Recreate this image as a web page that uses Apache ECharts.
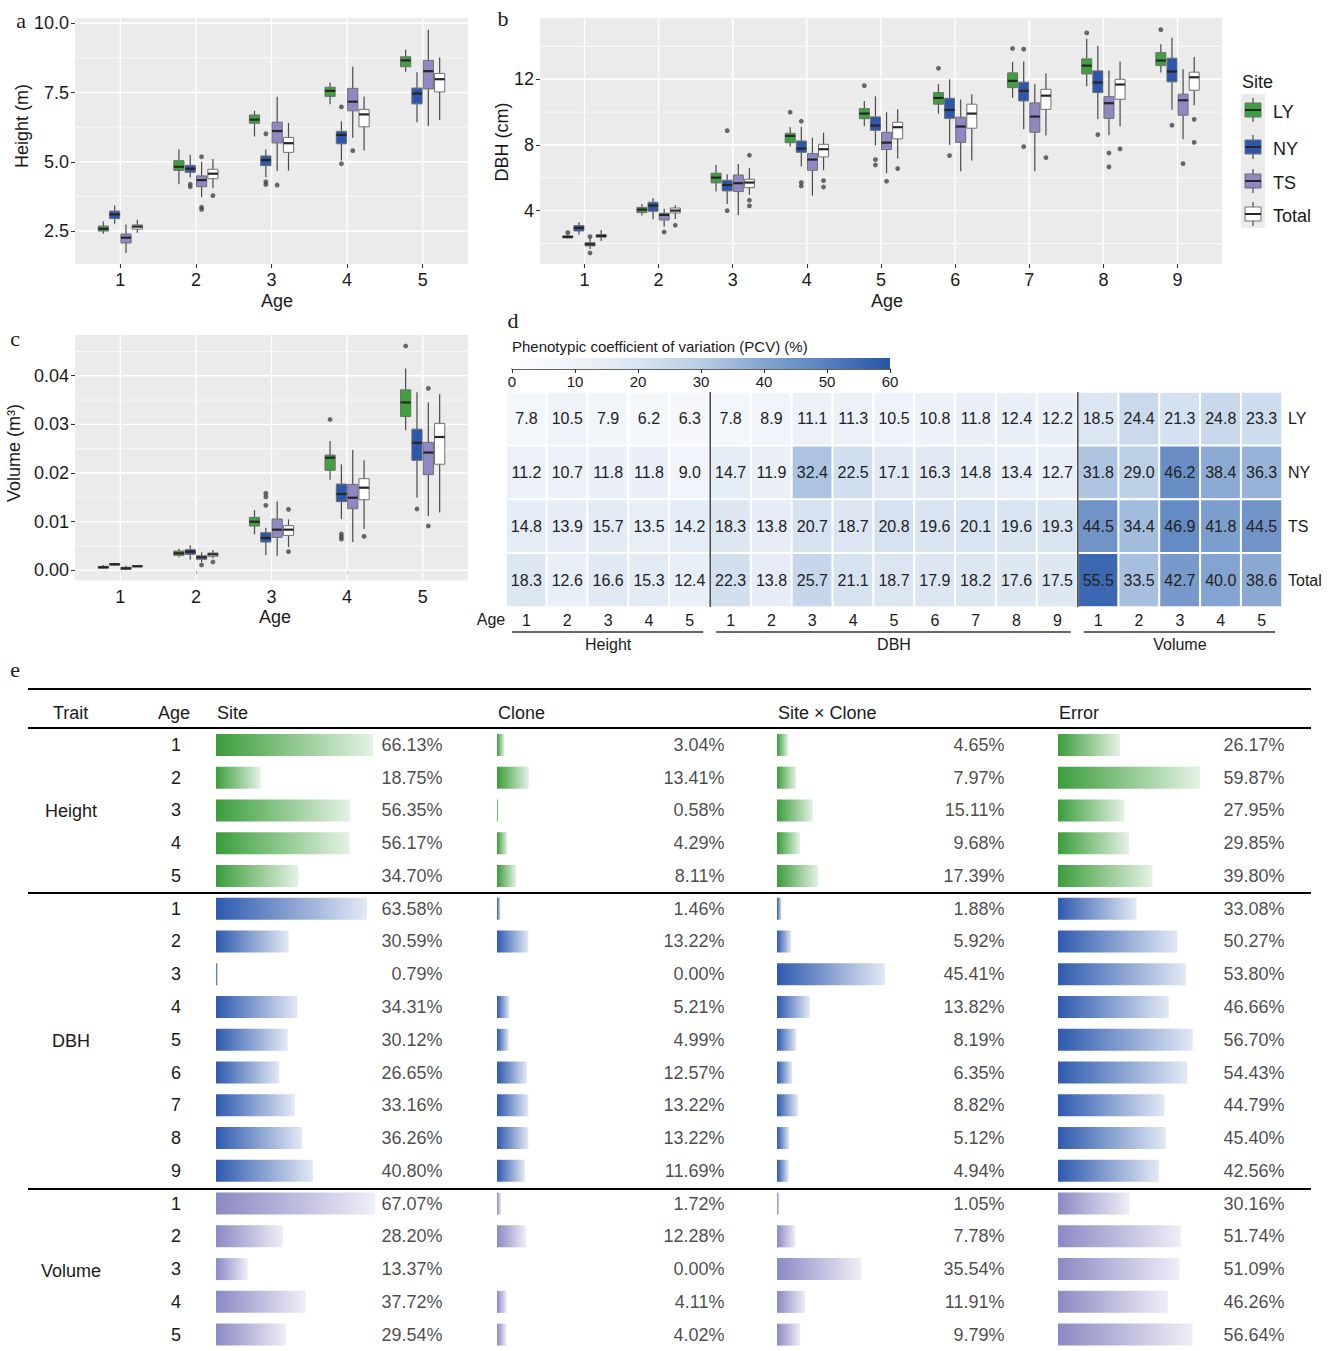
<!DOCTYPE html>
<html><head><meta charset="utf-8">
<script src="https://cdn.jsdelivr.net/npm/echarts@6/dist/echarts.min.js"></script>
<style>html,body{margin:0;padding:0;background:#fff}#c{width:1337px;height:1351px}</style>
</head><body><div id="c"></div>
<script>
// ---------------- DATA ----------------
const sites = ['LY', 'NY', 'TS', 'Total'];
const heightAges = [1, 2, 3, 4, 5];
const dbhAges = [1, 2, 3, 4, 5, 6, 7, 8, 9];
const volumeAges = [1, 2, 3, 4, 5];

// box stats per age: [lower whisker, Q1, median, Q3, upper whisker]
const heightLY = [[2.40,2.50,2.58,2.68,2.84],[4.19,4.69,4.82,5.04,5.45],[5.91,6.39,6.52,6.69,6.84],[7.08,7.36,7.56,7.69,7.86],[8.25,8.43,8.66,8.79,9.04]];
const heightNY = [[2.76,2.95,3.10,3.22,3.42],[4.43,4.62,4.75,4.87,5.25],[4.44,4.86,5.06,5.21,5.44],[5.05,5.65,5.97,6.10,6.46],[6.43,7.09,7.46,7.66,8.23]];
const heightTS = [[1.71,2.07,2.26,2.39,2.74],[3.72,4.10,4.34,4.49,5.00],[4.67,5.68,6.11,6.43,7.35],[5.87,6.84,7.17,7.65,8.43],[6.29,7.63,8.27,8.66,9.77]];
const heightTotal = [[2.44,2.57,2.66,2.72,2.91],[4.04,4.39,4.57,4.73,5.10],[4.68,5.34,5.67,5.88,6.40],[5.41,6.26,6.71,6.89,7.36],[6.51,7.52,7.98,8.19,8.76]];
// outliers: [age, value]
const heightOutLY = [];
const heightOutNY = [[2,4.19],[2,4.10],[3,6.01],[3,4.28],[3,4.18],[4,6.98],[4,4.93]];
const heightOutTS = [[2,5.18],[2,3.36],[2,3.28],[3,4.16],[4,5.40]];
const heightOutTotal = [[2,3.78]];

const dbhLY = [[2.30,2.34,2.40,2.46,2.52],[3.70,3.88,4.06,4.20,4.41],[5.16,5.69,6.01,6.28,6.78],[7.90,8.14,8.55,8.71,9.08],[9.16,9.60,9.91,10.21,10.68],[9.91,10.48,10.86,11.19,11.70],[10.86,11.49,11.90,12.39,13.06],[11.57,12.32,12.83,13.24,14.46],[12.41,12.83,13.14,13.62,14.13]];
const dbhNY = [[2.54,2.76,2.95,3.09,3.29],[3.47,3.96,4.31,4.51,4.77],[4.41,5.20,5.56,5.85,6.21],[6.68,7.55,7.78,8.24,9.10],[7.98,8.89,9.18,9.71,10.96],[8.00,9.62,10.13,10.84,12.00],[8.95,10.68,11.29,11.82,13.08],[9.56,11.19,11.80,12.51,14.03],[10.15,11.84,12.47,13.28,14.52]];
const dbhTS = [[1.67,1.85,1.95,2.05,2.28],[3.03,3.43,3.74,3.84,4.12],[3.74,5.16,5.67,6.17,6.84],[4.91,6.46,7.11,7.47,8.44],[6.28,7.72,8.14,8.77,9.99],[6.40,8.16,9.12,9.69,10.76],[6.40,8.77,9.73,10.56,11.70],[8.59,9.62,10.54,10.94,12.53],[8.35,9.81,10.72,11.09,12.61]];
const dbhTotal = [[2.15,2.38,2.46,2.54,2.82],[3.49,3.86,4.00,4.16,4.33],[4.96,5.40,5.71,5.91,6.58],[6.46,7.27,7.74,8.04,8.75],[7.17,8.37,9.08,9.38,10.17],[7.05,9.02,9.91,10.48,11.09],[8.57,10.17,11.00,11.39,12.37],[9.14,10.78,11.68,12.00,13.08],[10.42,11.33,12.12,12.43,13.36]];
const dbhOutLY = [[1,2.66],[4,9.99],[5,11.61],[6,12.67],[7,13.87],[8,14.82],[9,15.02]];
const dbhOutNY = [[3,8.87],[3,4.00],[4,9.44],[4,5.71],[4,5.50],[5,7.11],[5,6.78],[6,7.35],[7,13.83],[7,7.90],[8,8.63],[9,9.20]];
const dbhOutTS = [[1,2.42],[1,1.42],[2,2.70],[5,5.79],[8,7.51],[8,6.66],[9,6.86]];
const dbhOutTotal = [[2,3.11],[3,7.37],[3,4.63],[3,4.29],[4,5.83],[4,5.44],[5,6.56],[7,7.23],[8,7.76],[9,9.56],[9,8.16]];

const volumeLY = [[0.00040,0.00046,0.00061,0.00081,0.00108],[0.00266,0.00307,0.00349,0.00396,0.00444],[0.00739,0.00910,0.00999,0.01088,0.01239],[0.01862,0.02054,0.02314,0.02369,0.02656],[0.0288,0.0316,0.0345,0.0371,0.0415]];
const volumeNY = [[0.00095,0.00109,0.00123,0.00136,0.00157],[0.00218,0.00328,0.00383,0.00424,0.00513],[0.00314,0.00581,0.00664,0.00773,0.00876],[0.01054,0.01410,0.01568,0.01773,0.02177],[0.01492,0.0226,0.0262,0.0290,0.0366]];
const volumeTS = [[0.00013,0.00020,0.00040,0.00061,0.00095],[0.00164,0.00225,0.00266,0.00300,0.00369],[0.0030,0.00677,0.00835,0.01054,0.01417],[0.00581,0.01266,0.01492,0.01766,0.02472],[0.01116,0.01965,0.0242,0.0263,0.0345]];
const volumeTotal = [[0.00068,0.00075,0.00082,0.00095,0.00108],[0.00246,0.00287,0.00328,0.00355,0.00417],[0.00479,0.00718,0.00835,0.00917,0.01047],[0.00849,0.01451,0.01698,0.01883,0.0226],[0.0119,0.0218,0.0274,0.0302,0.0362]];
const volumeOutLY = [[4,0.0310],[5,0.0461]];
const volumeOutNY = [[3,0.0158],[3,0.0151],[3,0.01335],[4,0.00746],[4,0.0069],[4,0.0064],[5,0.0126]];
const volumeOutTS = [[2,0.00109],[5,0.0374],[5,0.0091]];
const volumeOutTotal = [[2,0.00171],[3,0.01253],[3,0.00383],[4,0.00698]];

// axis ticks
const heightTicks = [2.5, 5, 7.5, 10];
const heightMinor = [3.75, 6.25, 8.75];
const dbhTicks = [4, 8, 12];
const dbhMinor = [2, 6, 10, 14];
const volumeTicks = [0, 0.01, 0.02, 0.03, 0.04];
const volumeMinor = [0.005, 0.015, 0.025, 0.035, 0.045];

// PCV heatmap (%)
const pcvRows = ['LY', 'NY', 'TS', 'Total'];
const pcvTraits = ['Height', 'DBH', 'Volume'];
const pcvLY    = [7.8,10.5,7.9,6.2,6.3, 7.8,8.9,11.1,11.3,10.5,10.8,11.8,12.4,12.2, 18.5,24.4,21.3,24.8,23.3];
const pcvNY    = [11.2,10.7,11.8,11.8,9.0, 14.7,11.9,32.4,22.5,17.1,16.3,14.8,13.4,12.7, 31.8,29.0,46.2,38.4,36.3];
const pcvTS    = [14.8,13.9,15.7,13.5,14.2, 18.3,13.8,20.7,18.7,20.8,19.6,20.1,19.6,19.3, 44.5,34.4,46.9,41.8,44.5];
const pcvTotal = [18.3,12.6,16.6,15.3,12.4, 22.3,13.8,25.7,21.1,18.7,17.9,18.2,17.6,17.5, 55.5,33.5,42.7,40.0,38.6];
const pcvScaleTicks = [0, 10, 20, 30, 40, 50, 60];

// variance components table (%)
const tblColumns = ['Site', 'Clone', 'Site \u00d7 Clone', 'Error'];
const heightSite  = [66.13,18.75,56.35,56.17,34.70];
const heightClone = [3.04,13.41,0.58,4.29,8.11];
const heightSxC   = [4.65,7.97,15.11,9.68,17.39];
const heightError = [26.17,59.87,27.95,29.85,39.80];
const dbhSite  = [63.58,30.59,0.79,34.31,30.12,26.65,33.16,36.26,40.80];
const dbhClone = [1.46,13.22,0.00,5.21,4.99,12.57,13.22,13.22,11.69];
const dbhSxC   = [1.88,5.92,45.41,13.82,8.19,6.35,8.82,5.12,4.94];
const dbhError = [33.08,50.27,53.80,46.66,56.70,54.43,44.79,45.40,42.56];
const volumeSite  = [67.07,28.20,13.37,37.72,29.54];
const volumeClone = [1.72,12.28,0.00,4.11,4.02];
const volumeSxC   = [1.05,7.78,35.54,11.91,9.79];
const volumeError = [30.16,51.74,51.09,46.26,56.64];

// ---------------- STYLE / LAYOUT ----------------
const FONT = "'Liberation Sans', Arial, Helvetica, sans-serif";
const SERIF = "'Liberation Serif', 'Times New Roman', serif";
const TXT = '#1a1a1a';
const SITE_FILL = ['#3ea13e', '#2b57ae', '#8e89c4', '#ffffff'];
const OFFS = [-0.225, -0.075, 0.075, 0.225];
const BOX_W = 0.135;
const PCV_COLORS = ['#ffffff', '#eff3f9', '#d8e4f1', '#b9cee6', '#83a4d0', '#5880be', '#2554a6'];
const TRAIT_GRAD = [['#3b9d3b', '#e4f2e4'], ['#2e5aae', '#e2e9f5'], ['#8c89c4', '#efeef7']];

const grids = [], xAxes = [], yAxes = [], series = [], graphics = [];

function txt(x, y, text, opt) {
  opt = opt || {};
  const align = opt.align || 'center', va = opt.va || 'middle';
  return { type: 'text', x: x, y: y, rotation: opt.rot || 0, silent: true, z: 50,
    style: { text: text, fill: opt.color || TXT, fontSize: opt.size || 18, fontFamily: opt.family || FONT,
      align: align, verticalAlign: va, textAlign: align, textVerticalAlign: va } };
}
function hline(x1, x2, y, w, c) {
  return { type: 'line', silent: true, z: 50, shape: { x1: x1, y1: y, x2: x2, y2: y }, style: { stroke: c || '#000', lineWidth: w || 2 } };
}
function vline(x, y1, y2, w, c) {
  return { type: 'line', silent: true, z: 50, shape: { x1: x, y1: y1, x2: x, y2: y2 }, style: { stroke: c || '#000', lineWidth: w || 1.5 } };
}

function gridRender(params, api) {
  const cs = params.coordSys;
  const kind = api.value(2);
  if (kind === 2) {
    const px = api.coord([api.value(0), api.value(1)])[0];
    return { type: 'line', shape: { x1: px, y1: cs.y, x2: px, y2: cs.y + cs.height }, style: { stroke: '#fff', lineWidth: 1.4 } };
  }
  const py = api.coord([api.value(0), api.value(1)])[1];
  return { type: 'line', shape: { x1: cs.x, y1: py, x2: cs.x + cs.width, y2: py }, style: { stroke: '#fff', lineWidth: kind === 0 ? 1.4 : 0.7 } };
}
function boxRender(fill) {
  return function (params, api) {
    const x = api.value(0);
    const med = api.coord([x, api.value(3)]);
    const yMin = api.coord([x, api.value(1)])[1];
    const yQ1 = api.coord([x, api.value(2)])[1];
    const yQ3 = api.coord([x, api.value(4)])[1];
    const yMax = api.coord([x, api.value(5)])[1];
    const w = api.size([BOX_W, 0])[0];
    const cx = med[0];
    return { type: 'group', children: [
      { type: 'line', shape: { x1: cx, y1: yMax, x2: cx, y2: yQ3 }, style: { stroke: '#4a4a4a', lineWidth: 1.2 } },
      { type: 'line', shape: { x1: cx, y1: yQ1, x2: cx, y2: yMin }, style: { stroke: '#4a4a4a', lineWidth: 1.2 } },
      { type: 'rect', shape: { x: cx - w / 2, y: yQ3, width: w, height: yQ1 - yQ3 }, style: { fill: fill, stroke: '#6e6e6e', lineWidth: 1 } },
      { type: 'line', shape: { x1: cx - w / 2, y1: med[1], x2: cx + w / 2, y2: med[1] }, style: { stroke: '#262626', lineWidth: 2.2 } }
    ] };
  };
}

function addBoxPanel(c) {
  const gi = grids.length;
  grids.push({ left: c.left, top: c.top, width: c.width, height: c.height, show: true, backgroundColor: '#ebebeb', borderWidth: 0 });
  xAxes.push({ gridIndex: gi, type: 'value', min: 0.4, max: c.ages.length + 0.6,
    axisLine: { show: false }, splitLine: { show: false },
    axisTick: { show: true, customValues: c.ages, length: 4, lineStyle: { color: '#333', width: 1.1 } },
    axisLabel: { customValues: c.ages, fontSize: 18, color: TXT, fontFamily: FONT, margin: 7 } });
  yAxes.push({ gridIndex: gi, type: 'value', min: c.ymin, max: c.ymax,
    axisLine: { show: false }, splitLine: { show: false },
    axisTick: { show: true, customValues: c.ticks, length: 4, lineStyle: { color: '#333', width: 1.1 } },
    axisLabel: { customValues: c.ticks, formatter: c.fmt, fontSize: 18, color: TXT, fontFamily: FONT, margin: 6 } });
  const gd = [];
  c.ticks.forEach(v => gd.push([c.ages[0], v, 0]));
  c.minor.forEach(v => gd.push([c.ages[0], v, 1]));
  c.ages.forEach(a => gd.push([a, c.ticks[0], 2]));
  series.push({ type: 'custom', xAxisIndex: gi, yAxisIndex: gi, silent: true, z: 1, data: gd, encode: { x: 0, y: 1 }, renderItem: gridRender });
  sites.forEach((s, j) => {
    series.push({ type: 'custom', name: s, xAxisIndex: gi, yAxisIndex: gi, silent: true, z: 3,
      data: c.stats[j].map((st, i) => [c.ages[i] + OFFS[j]].concat(st)),
      encode: { x: 0, y: [1, 2, 3, 4, 5] }, renderItem: boxRender(SITE_FILL[j]) });
  });
  const od = [];
  c.outliers.forEach((arr, j) => arr.forEach(p => od.push([p[0] + OFFS[j], p[1]])));
  series.push({ type: 'scatter', xAxisIndex: gi, yAxisIndex: gi, silent: true, z: 4, symbolSize: 4.8,
    itemStyle: { color: '#444' }, data: od });
}

// Panel a
addBoxPanel({ left: 75, top: 18, width: 393, height: 246, ages: heightAges, ymin: 1.31, ymax: 10.19,
  ticks: heightTicks, minor: heightMinor, fmt: v => Number(v).toFixed(1),
  stats: [heightLY, heightNY, heightTS, heightTotal], outliers: [heightOutLY, heightOutNY, heightOutTS, heightOutTotal] });
// Panel b
addBoxPanel({ left: 540, top: 18, width: 682, height: 246, ages: dbhAges, ymin: 0.75, ymax: 15.73,
  ticks: dbhTicks, minor: dbhMinor, fmt: v => String(Math.round(v)),
  stats: [dbhLY, dbhNY, dbhTS, dbhTotal], outliers: [dbhOutLY, dbhOutNY, dbhOutTS, dbhOutTotal] });
// Panel c
addBoxPanel({ left: 75, top: 335, width: 393, height: 245.5, ages: volumeAges, ymin: -0.0021, ymax: 0.04837,
  ticks: volumeTicks, minor: volumeMinor, fmt: v => Number(v).toFixed(2),
  stats: [volumeLY, volumeNY, volumeTS, volumeTotal], outliers: [volumeOutLY, volumeOutNY, volumeOutTS, volumeOutTotal] });

// axis titles & panel letters
graphics.push(txt(21, 20, 'a', { family: SERIF, size: 22 }));
graphics.push(txt(503, 18, 'b', { family: SERIF, size: 22 }));
graphics.push(txt(15, 338, 'c', { family: SERIF, size: 22 }));
graphics.push(txt(513, 320, 'd', { family: SERIF, size: 22 }));
graphics.push(txt(15, 669, 'e', { family: SERIF, size: 22 }));
graphics.push(txt(277, 301, 'Age'));
graphics.push(txt(887, 301, 'Age'));
graphics.push(txt(275, 617, 'Age'));
graphics.push(txt(22, 126, 'Height (m)', { rot: Math.PI / 2 }));
graphics.push(txt(502, 142, 'DBH (cm)', { rot: Math.PI / 2 }));
graphics.push(txt(14, 453, 'Volume (m\u00b3)', { rot: Math.PI / 2 }));

// legend (site)
graphics.push(txt(1242, 82, 'Site', { align: 'left' }));
graphics.push({ type: 'rect', silent: true, z: 40, shape: { x: 1241, y: 94, width: 24, height: 134 }, style: { fill: '#ebebeb' } });
const legendY = [110, 147, 181, 214];
sites.forEach((s, j) => {
  const cy = legendY[j], cx = 1253;
  graphics.push({ type: 'line', silent: true, z: 41, shape: { x1: cx, y1: cy - 12, x2: cx, y2: cy + 12 }, style: { stroke: '#4a4a4a', lineWidth: 1.2 } });
  graphics.push({ type: 'rect', silent: true, z: 42, shape: { x: cx - 8, y: cy - 7, width: 16, height: 14 }, style: { fill: SITE_FILL[j], stroke: '#6e6e6e', lineWidth: 1 } });
  graphics.push({ type: 'line', silent: true, z: 43, shape: { x1: cx - 8, y1: cy, x2: cx + 8, y2: cy }, style: { stroke: '#262626', lineWidth: 2 } });
  graphics.push(txt(1273, cy + 2, s, { align: 'left' }));
});

// ---------------- Panel d: colour bar ----------------
const cbGi = grids.length;
grids.push({ left: 512, top: 358, width: 378, height: 11 });
xAxes.push({ gridIndex: cbGi, type: 'value', min: 0, max: 60, interval: 10,
  axisLine: { show: true, onZero: false, lineStyle: { color: '#333', width: 1.5 } },
  axisTick: { show: true, length: 4, lineStyle: { color: '#333', width: 1 } },
  splitLine: { show: false },
  axisLabel: { fontSize: 15, color: TXT, fontFamily: FONT, margin: 5 } });
yAxes.push({ gridIndex: cbGi, type: 'value', min: 0, max: 1, show: false });
series.push({ type: 'custom', xAxisIndex: cbGi, yAxisIndex: cbGi, silent: true, z: 1,
  data: [[pcvScaleTicks[0], 0, pcvScaleTicks[pcvScaleTicks.length - 1], 1]], encode: { x: [0, 2], y: [1, 3] },
  renderItem: function (params, api) {
    const p0 = api.coord([api.value(0), api.value(1)]);
    const p1 = api.coord([api.value(2), api.value(3)]);
    return { type: 'rect', shape: { x: p0[0], y: p1[1], width: p1[0] - p0[0], height: p0[1] - p1[1] },
      style: { fill: new echarts.graphic.LinearGradient(0, 0, 1, 0, PCV_COLORS.map((c, i) => ({ offset: i / (PCV_COLORS.length - 1), color: c }))) } };
  } });
graphics.push(txt(512, 346, 'Phenotypic coefficient of variation (PCV) (%)', { align: 'left', size: 15 }));

// ---------------- Panel d: heatmap ----------------
const pcvAgeGroups = [heightAges, dbhAges, volumeAges];
const hmKeys = [];
pcvTraits.forEach((t, k) => pcvAgeGroups[k].forEach(a => hmKeys.push(t + '-' + a)));
const pcvMatrix = [pcvLY, pcvNY, pcvTS, pcvTotal];
const hmData = [];
pcvMatrix.forEach((row, r) => row.forEach((v, c) => hmData.push([c, r, v])));
const HM = { left: 506, top: 392, width: 776, height: 215 };
const hmGi = grids.length;
grids.push({ left: HM.left, top: HM.top, width: HM.width, height: HM.height });
xAxes.push({ gridIndex: hmGi, type: 'category', data: hmKeys, axisLine: { show: false }, axisTick: { show: false }, splitLine: { show: false },
  axisLabel: { interval: 0, formatter: v => v.split('-')[1], fontSize: 16, color: TXT, fontFamily: FONT, margin: 5 } });
yAxes.push({ gridIndex: hmGi, type: 'category', data: pcvRows, inverse: true, position: 'right', axisLine: { show: false }, axisTick: { show: false },
  axisLabel: { fontSize: 16, color: TXT, fontFamily: FONT, margin: 6 } });
const hmSeriesIndex = series.length;
series.push({ type: 'heatmap', xAxisIndex: hmGi, yAxisIndex: hmGi, data: hmData, silent: true,
  itemStyle: { borderColor: '#ffffff', borderWidth: 2 },
  label: { show: true, formatter: p => p.value[2].toFixed(1), fontSize: 16, color: '#222', fontFamily: FONT },
  emphasis: { disabled: true } });
const cellW = HM.width / hmKeys.length;
let colStart = 0;
pcvAgeGroups.forEach((g, k) => {
  const x0 = HM.left + colStart * cellW, x1 = HM.left + (colStart + g.length) * cellW;
  if (k > 0) graphics.push(vline(x0, HM.top, HM.top + HM.height, 1.5, '#444'));
  graphics.push(hline(x0 + 6, x1 - 7, 632, 1.5, '#333'));
  graphics.push(txt((x0 + x1) / 2, 644, pcvTraits[k], { size: 16 }));
  colStart += g.length;
});
graphics.push(txt(491, 619, 'Age', { size: 16 }));

// ---------------- Panel e: table ----------------
const ROW_H = 32.89, TBL_TOP = 893 - 5 * 32.89;
const traitAges = [heightAges, dbhAges, volumeAges];
const tblKeys = [], tblTrait = [];
traitAges.forEach((g, k) => g.forEach(a => { tblKeys.push(pcvTraits[k] + '-' + a); tblTrait.push(k); }));
const tblCols = [
  heightSite.concat(dbhSite, volumeSite),
  heightClone.concat(dbhClone, volumeClone),
  heightSxC.concat(dbhSxC, volumeSxC),
  heightError.concat(dbhError, volumeError)
];
const BAR_LEFT = [216, 497, 777, 1058];
const LABEL_RIGHT = [443, 725, 1005, 1285];
const BAR_W100 = 237.5;
function grad(k) {
  return new echarts.graphic.LinearGradient(0, 0, 1, 0, [{ offset: 0, color: TRAIT_GRAD[k][0] }, { offset: 1, color: TRAIT_GRAD[k][1] }]);
}
tblCols.forEach((vals, k) => {
  const gi = grids.length;
  grids.push({ left: BAR_LEFT[k], top: TBL_TOP, width: BAR_W100, height: ROW_H * tblKeys.length });
  xAxes.push({ gridIndex: gi, type: 'value', min: 0, max: 100, show: false });
  yAxes.push({ gridIndex: gi, type: 'category', data: tblKeys, inverse: true, show: k === 0,
    axisLine: { show: false }, axisTick: { show: false },
    axisLabel: { formatter: (v) => v.split('-')[1], align: 'center', margin: 40, fontSize: 18, color: TXT, fontFamily: FONT } });
  series.push({ type: 'bar', xAxisIndex: gi, yAxisIndex: gi, barWidth: 22, silent: true,
    data: vals.map((v, i) => ({ value: v, itemStyle: { color: grad(tblTrait[i]) } })) });
  const lx = (LABEL_RIGHT[k] - BAR_LEFT[k]) / BAR_W100 * 100;
  series.push({ type: 'scatter', xAxisIndex: gi, yAxisIndex: gi, silent: true, symbolSize: 1,
    itemStyle: { color: 'rgba(0,0,0,0)' },
    data: vals.map((v, i) => [lx, i, v]), encode: { x: 0, y: 1 },
    label: { show: true, position: 'left', distance: 0, formatter: p => p.value[2].toFixed(2) + '%', fontSize: 18, color: TXT, fontFamily: FONT } });
});
graphics.push(hline(28, 1311, 689, 2));
graphics.push(hline(28, 1311, 728, 2));
let rs = 0;
traitAges.forEach((g, k) => {
  if (k > 0) graphics.push(hline(28, 1311, TBL_TOP + rs * ROW_H, 2));
  graphics.push(txt(71, TBL_TOP + (rs + g.length / 2) * ROW_H, pcvTraits[k]));
  rs += g.length;
});
graphics.push(txt(53, 713, 'Trait', { align: 'left' }));
graphics.push(txt(158, 713, 'Age', { align: 'left' }));
tblColumns.forEach((n, k) => graphics.push(txt(BAR_LEFT[k] + 1, 713, n, { align: 'left' })));

// ---------------- chart ----------------
const chart = echarts.init(document.getElementById('c'), null, { renderer: 'svg' });
chart.setOption({
  animation: false,
  backgroundColor: '#ffffff',
  textStyle: { fontFamily: FONT },
  grid: grids, xAxis: xAxes, yAxis: yAxes,
  visualMap: [{ type: 'continuous', min: 0, max: 60, show: false, seriesIndex: hmSeriesIndex, inRange: { color: PCV_COLORS } }],
  series: series,
  graphic: { elements: graphics }
});
</script></body></html>
